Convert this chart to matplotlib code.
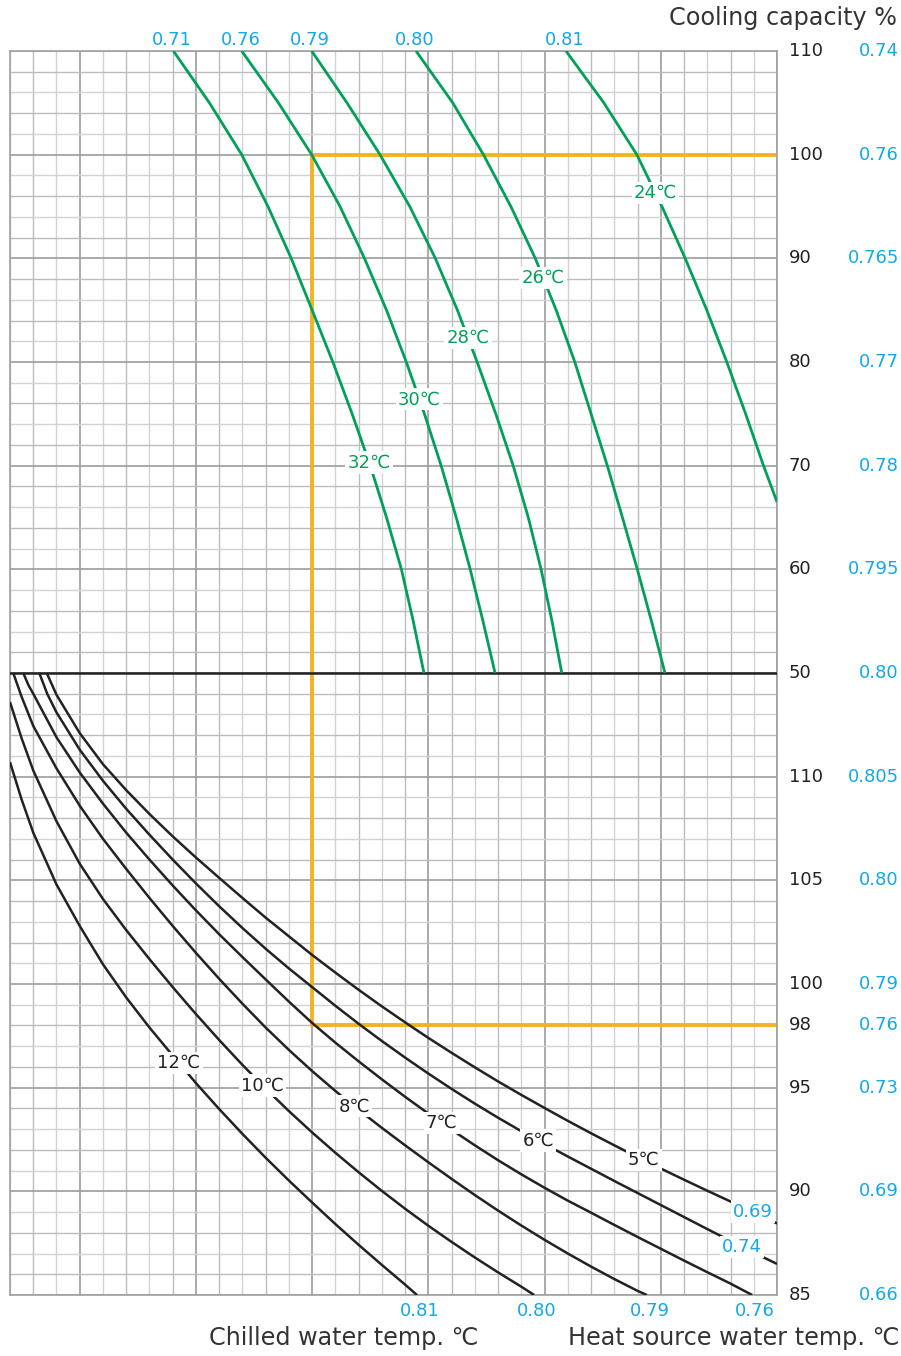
import numpy as np
import matplotlib
matplotlib.use("Agg")
import matplotlib.pyplot as plt
from matplotlib.transforms import blended_transform_factory

plt.rcParams["font.family"] = ["DejaVu Sans"]

# grid: 33 columns, 60 rows (upper half 50..110 % in 2 % rows, lower half 85..115 % in 1 % rows)
N_COLS = 33
N_ROWS = 60

GREEN = "#00a05a"
BLUE = "#14a9e6"
ORANGE = "#f4b124"
BLACK = "#222222"

# heat source water temp curves (upper part): x = grid column at each capacity %
HS_LABELS = ["32℃", "30℃", "28℃", "26℃", "24℃"]
HS_TOP_VALUES = ["0.71", "0.76", "0.79", "0.80", "0.81"]
HS_CAP = [
    [110, 105, 100, 95, 90, 85, 80, 75, 70, 65, 60, 55, 50],
    [110, 105, 100, 95, 90, 85, 80, 75, 70, 65, 60, 55, 50],
    [110, 105, 100, 95, 90, 85, 80, 75, 70, 65, 60, 55, 50],
    [110, 105, 100, 95, 90, 85, 80, 75, 70, 65, 60, 55, 50],
    [110, 105, 100, 95, 90, 85, 80, 75, 70, 66.5],
]
HS_X = [
    [7.03, 8.58, 9.97, 11.1, 12.1, 13.0, 13.89, 14.72, 15.5, 16.2, 16.84, 17.35, 17.81],
    [9.97, 11.55, 12.98, 14.2, 15.25, 16.2, 17.05, 17.83, 18.55, 19.2, 19.8, 20.35, 20.87],
    [12.98, 14.5, 15.92, 17.2, 18.3, 19.25, 20.1, 20.9, 21.65, 22.3, 22.85, 23.32, 23.74],
    [17.47, 19.05, 20.37, 21.55, 22.6, 23.5, 24.3, 25.0, 25.7, 26.35, 26.99, 27.6, 28.18],
    [23.92, 25.55, 26.97, 28.05, 29.05, 29.98, 30.84, 31.65, 32.42, 33.0],
]
HS_LABEL_CAP = [70.3, 76.4, 82.3, 88.1, 96.3]

# chilled water temp curves (lower part): capacity % at each grid column
CW_LABELS = ["12℃", "10℃", "8℃", "7℃", "6℃", "5℃"]
CW_END_VALUES = ["0.81", "0.80", "0.79", "0.76", "0.74", "0.69"]
CW_X = [
    [0, 0.5, 1, 2, 3, 4, 5, 6, 7, 8, 9, 10, 11, 12, 13, 14, 15, 16, 17, 17.51],
    [0, 0.5, 1, 2, 3, 4, 5, 6, 7, 8, 9, 10, 11, 12, 13, 14, 15, 16, 17, 18, 19, 20, 21,
     22, 22.55],
    [0.14, 0.5, 1, 2, 3, 4, 5, 6, 7, 8, 9, 10, 11, 12, 13, 14, 15, 16, 17, 18, 19, 20,
     21, 22, 23, 24, 25, 26, 27, 27.4],
    [0.57, 0.8, 1, 2, 3, 4, 5, 6, 7, 8, 9, 10, 11, 12, 13, 14, 15, 16, 17, 18, 19, 20, 21,
     22, 23, 24, 25, 26, 27, 28, 29, 30, 31, 31.93],
    [1.26, 1.6, 2, 3, 4, 5, 6, 7, 8, 9, 10, 11, 12, 13, 14, 15, 16, 17, 18, 19, 20, 21,
     22, 23, 24, 25, 26, 27, 28, 29, 30, 31, 32, 33],
    [1.58, 2, 3, 4, 5, 6, 7, 8, 9, 10, 11, 12, 13, 14, 15, 16, 17, 18, 19, 20, 21, 22,
     23, 24, 25, 26, 27, 28, 29, 30, 31, 32, 33],
]
CW_CAP = [
    [110.7, 108.9, 107.3, 104.8, 102.8, 100.95, 99.35, 97.9, 96.55, 95.22, 93.97, 92.77,
     91.62, 90.52, 89.46, 88.42, 87.42, 86.45, 85.5, 85.0],
    [113.6, 111.85, 110.3, 107.85, 105.8, 104.1, 102.6, 101.2, 99.85, 98.55, 97.3, 96.1,
     94.95, 93.87, 92.84, 91.86, 90.92, 90.02, 89.16, 88.34, 87.56, 86.81, 86.09, 85.4,
     85.0],
    [115, 113.85, 112.45, 110.4, 108.6, 107.0, 105.55, 104.15, 102.8, 101.5, 100.25,
     99.05, 97.9, 96.82, 95.8, 94.84, 93.93, 93.06, 92.22, 91.4, 90.6, 89.82, 89.07,
     88.35, 87.66, 87.0, 86.37, 85.77, 85.2, 85.0],
    [115, 114.4, 114.0, 111.9, 110.2, 108.7, 107.3, 106.0, 104.75, 103.55, 102.4, 101.3,
     100.22, 99.15, 98.12, 97.17, 96.27, 95.4, 94.56, 93.75, 92.97, 92.22, 91.5, 90.82,
     90.17, 89.55, 88.97, 88.38, 87.8, 87.23, 86.66, 86.1, 85.55, 85.0],
    [115, 114.0, 113.1, 111.3, 109.8, 108.45, 107.2, 106.0, 104.85, 103.75, 102.7, 101.7,
     100.75, 99.85, 98.95, 98.08, 97.25, 96.45, 95.68, 94.94, 94.23, 93.55, 92.9, 92.28,
     91.68, 91.09, 90.5, 89.92, 89.34, 88.76, 88.18, 87.61, 87.04, 86.5],
    [115, 113.95, 112.1, 110.6, 109.35, 108.2, 107.12, 106.1, 105.12, 104.15, 103.2,
     102.3, 101.4, 100.55, 99.72, 98.92, 98.15, 97.4, 96.68, 95.98, 95.3, 94.65, 94.02,
     93.4, 92.8, 92.22, 91.65, 91.1, 90.56, 90.03, 89.51, 89.0, 88.45],
]
CW_LABEL_CAP = [96.2, 95.1, 94.1, 93.3, 92.45, 91.5]
CW_END_LABEL_CAP = [None, None, None, None, 87.33, 89.02]

# right side scales
TOP_TICKS = [110, 100, 90, 80, 70, 60, 50]
TOP_BLUE = ["0.74", "0.76", "0.765", "0.77", "0.78", "0.795", "0.80"]
BOT_TICKS = [110, 105, 100, 98, 95, 90, 85]
BOT_BLUE = ["0.805", "0.80", "0.79", "0.76", "0.73", "0.69", "0.66"]

# selection example (orange)
SEL_X = 13.0
SEL_TOP_CAP = 100
SEL_BOT_CAP = 98


def top_row(cap):
    return 30 + (np.asarray(cap, dtype=float) - 50) / 2.0


def bot_row(cap):
    return np.asarray(cap, dtype=float) - 85


W, H = 901, 1356
fig = plt.figure(figsize=(W / 100, H / 100), dpi=100)
ax = fig.add_axes([10 / W, 61 / H, 767 / W, 1244 / H])
ax.set_xlim(0, N_COLS)
ax.set_ylim(0, N_ROWS)
ax.set_xticks([])
ax.set_yticks([])
for s in ax.spines.values():
    s.set_color("#a0a0a0")
    s.set_linewidth(1.2)

for i in range(N_COLS + 1):
    if (i - 3) % 5 == 0:
        ax.axvline(i, color="#9c9c9c", lw=1.2, zorder=1)
    else:
        ax.axvline(i, color="#bcbcbc" if i % 2 else "#d2d2d2", lw=1.0, zorder=1)
for j in range(N_ROWS + 1):
    if j % 5 == 0:
        ax.axhline(j, color="#9c9c9c", lw=1.2, zorder=1)
    else:
        ax.axhline(j, color="#bcbcbc" if j % 2 else "#d2d2d2", lw=1.0, zorder=1)

# divider between the two parts
ax.axhline(30, color=BLACK, lw=1.8, zorder=3)

# orange selection lines
ax.plot([SEL_X, N_COLS], [top_row(SEL_TOP_CAP)] * 2, color=ORANGE, lw=2.8, zorder=2,
        solid_capstyle="butt", clip_on=False)
ax.plot([SEL_X, N_COLS], [bot_row(SEL_BOT_CAP)] * 2, color=ORANGE, lw=2.8, zorder=2,
        solid_capstyle="butt", clip_on=False)
ax.plot([SEL_X, SEL_X], [bot_row(SEL_BOT_CAP), top_row(SEL_TOP_CAP)], color=ORANGE, lw=2.8,
        zorder=2, solid_capstyle="projecting")

lbl_box = dict(boxstyle="square,pad=0.12", facecolor="white", edgecolor="none")
FS = 13

for xs, caps, lab, top_val, lcap in zip(HS_X, HS_CAP, HS_LABELS, HS_TOP_VALUES, HS_LABEL_CAP):
    ys = top_row(caps)
    ax.plot(xs, ys, color=GREEN, lw=2.0, zorder=4, solid_capstyle="butt",
            solid_joinstyle="round")
    lx = np.interp(lcap, caps[::-1], xs[::-1])
    ax.text(lx, top_row(lcap), lab, color=GREEN, fontsize=FS, ha="center", va="center",
            bbox=lbl_box, zorder=6)
    ax.annotate(top_val, (xs[0], N_ROWS), xytext=(-1, 4.5), textcoords="offset points",
                color=BLUE, fontsize=FS, ha="center", va="baseline", annotation_clip=False)

for xs, caps, lab, end_val, lcap, ecap in zip(CW_X, CW_CAP, CW_LABELS, CW_END_VALUES,
                                               CW_LABEL_CAP, CW_END_LABEL_CAP):
    ys = bot_row(caps)
    ax.plot(xs, ys, color=BLACK, lw=1.8, zorder=4, solid_capstyle="butt",
            solid_joinstyle="round")
    lx = np.interp(lcap, caps[::-1], xs[::-1])
    ax.text(lx, bot_row(lcap), lab, color=BLACK, fontsize=FS, ha="center", va="center",
            bbox=lbl_box, zorder=6)
    if ecap is None:
        ax.annotate(end_val, (xs[-1], 0), xytext=(2, -5), textcoords="offset points",
                    color=BLUE, fontsize=FS, ha="center", va="top", annotation_clip=False)
    else:
        ex = np.interp(ecap, caps[::-1], xs[::-1])
        ax.text(ex, bot_row(ecap), end_val, color=BLUE, fontsize=FS, ha="center",
                va="center", bbox=lbl_box, zorder=6)

# right scales
tr = blended_transform_factory(fig.transFigure, ax.transData)
for cap, blue in zip(TOP_TICKS, TOP_BLUE):
    y = top_row(cap)
    ax.text(789 / W, y, str(cap), transform=tr, color=BLACK, fontsize=FS, ha="left", va="center")
    ax.text(899 / W, y, blue, transform=tr, color=BLUE, fontsize=FS, ha="right", va="center")
for cap, blue in zip(BOT_TICKS, BOT_BLUE):
    y = bot_row(cap)
    ax.text(789 / W, y, str(cap), transform=tr, color=BLACK, fontsize=FS, ha="left", va="center")
    ax.text(899 / W, y, blue, transform=tr, color=BLUE, fontsize=FS, ha="right", va="center")

TFS = 17.2
fig.text(897 / W, 1 - 18 / H, "Cooling capacity %", color="#333333", fontsize=TFS,
         ha="right", va="center")
fig.text(344 / W, 1 - 1338 / H, "Chilled water temp. ℃", color="#333333", fontsize=TFS,
         ha="center", va="center")
fig.text(900 / W, 1 - 1338 / H, "Heat source water temp. ℃", color="#333333", fontsize=TFS,
         ha="right", va="center")

fig.savefig("out.png", dpi=100, facecolor="white")
